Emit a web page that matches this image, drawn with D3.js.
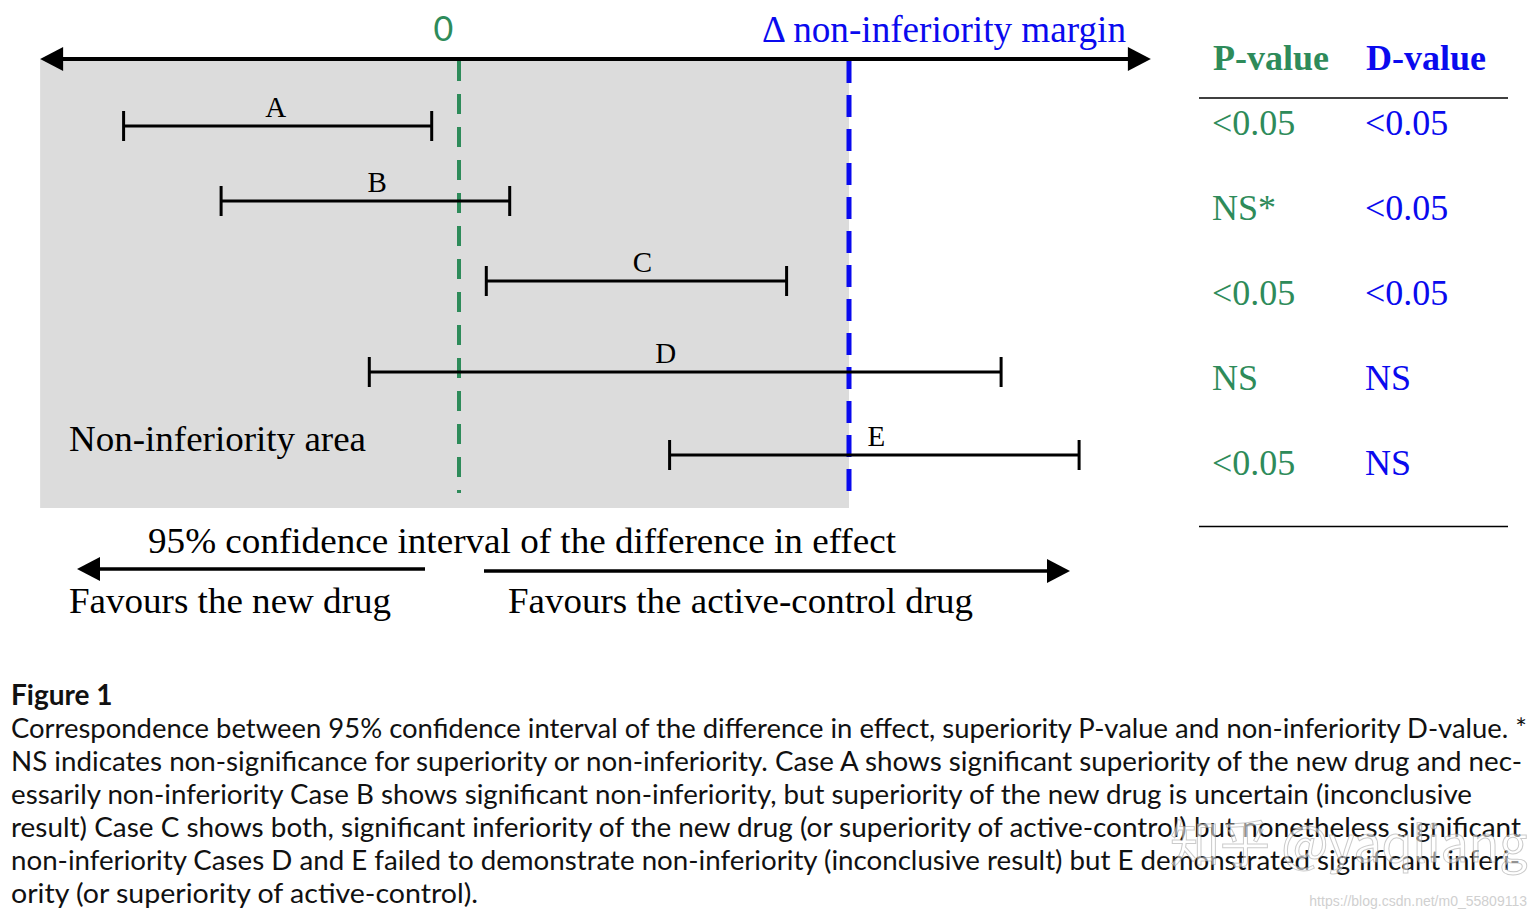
<!DOCTYPE html>
<html><head><meta charset="utf-8">
<script src="https://cdn.jsdelivr.net/npm/d3@7"></script>
<style>html,body{margin:0;padding:0;background:#fff;}svg{display:block;}</style>
</head><body>
<script>
// ---- data ----
const cases   = ["A", "B", "C", "D", "E"];
const lower   = [-0.86, -0.61, 0.07, -0.23, 0.54];   // CI lower bound (units of Δ)
const upper   = [-0.07, 0.13, 0.84, 1.39, 1.59];     // CI upper bound (units of Δ)
const pValues = ["<0.05", "NS*", "<0.05", "NS", "<0.05"];
const dValues = ["<0.05", "<0.05", "<0.05", "NS", "NS"];
const headers = ["P-value", "D-value"];
const captionTitle = "Figure 1";
const captionLines = [
  "Correspondence between 95% confidence interval of the difference in effect, superiority P-value and non-inferiority D-value. *",
  "NS indicates non-significance for superiority or non-inferiority. Case A shows significant superiority of the new drug and nec-",
  "essarily non-inferiority Case B shows significant non-inferiority, but superiority of the new drug is uncertain (inconclusive",
  "result) Case C shows both, significant inferiority of the new drug (or superiority of active-control) but nonetheless significant",
  "non-inferiority Cases D and E failed to demonstrate non-inferiority (inconclusive result) but E demonstrated significant inferi-",
  "ority (or superiority of active-control)."
];

// ---- layout ----
const W = 1537, H = 918;
const GREEN = "#2e8b5a", BLUE = "#0a0aee";
const serif = "'Liberation Serif','Times New Roman',serif";
const sans = "Lato,'Open Sans',sans-serif";

const svg = d3.select("body").append("svg").attr("width", W).attr("height", H);

const x = d3.scaleLinear().domain([0, 1]).range([459, 849]); // 0 -> zero line, 1 -> Δ margin
const axisY = 59;
const rowY = d3.scaleOrdinal().domain(cases).range([126, 201, 281, 372, 455]);
const labelAt = [-0.47, -0.21, 0.47, 0.53, 1.07];
const tableY = d3.scalePoint().domain(cases).range([135, 475]);

// non-inferiority area
svg.append("rect").attr("x", x(-1.074)).attr("y", axisY)
  .attr("width", x(1) - x(-1.074)).attr("height", 508 - axisY).attr("fill", "#dcdcdc");

function arrow(x1, x2, y, w) {
  const dir = Math.sign(x2 - x1), hl = 23, hw = 12;
  svg.append("line").attr("x1", x1).attr("x2", x2 - dir * hl).attr("y1", y).attr("y2", y)
    .attr("stroke", "#000").attr("stroke-width", w);
  svg.append("path").attr("d", `M${x2},${y}L${x2 - dir * hl},${y - hw}L${x2 - dir * hl},${y + hw}Z`).attr("fill", "#000");
}
// top double-headed axis
svg.append("line").attr("x1", x(-1.074) + 22).attr("x2", x(1.774) - 22).attr("y1", axisY).attr("y2", axisY)
  .attr("stroke", "#000").attr("stroke-width", 4);
svg.append("path").attr("d", `M${x(-1.074)},${axisY}l23,-12l0,24Z`).attr("fill", "#000");
svg.append("path").attr("d", `M${x(1.774)},${axisY}l-23,-12l0,24Z`).attr("fill", "#000");

// reference lines
svg.append("line").attr("x1", x(0)).attr("x2", x(0)).attr("y1", axisY + 2).attr("y2", 493)
  .attr("stroke", GREEN).attr("stroke-width", 4).attr("stroke-dasharray", "20,13");
svg.append("line").attr("x1", x(1)).attr("x2", x(1)).attr("y1", axisY + 2).attr("y2", 493)
  .attr("stroke", BLUE).attr("stroke-width", 5).attr("stroke-dasharray", "22,12");

svg.append("text").attr("x", x(-0.04)).attr("y", 41).attr("text-anchor", "middle")
  .attr("font-family", sans).attr("font-size", 34).attr("fill", GREEN).text("0");
svg.append("text").attr("x", 762).attr("y", 42).attr("textLength", 364).attr("lengthAdjust", "spacingAndGlyphs")
  .attr("font-family", serif).attr("font-size", 37).attr("fill", BLUE).text("\u0394 non-inferiority margin");

// confidence intervals
const g = svg.append("g");
cases.forEach((c, i) => {
  const y = rowY(c);
  g.append("line").attr("x1", x(lower[i])).attr("x2", x(upper[i])).attr("y1", y).attr("y2", y)
    .attr("stroke", "#000").attr("stroke-width", 3);
  [lower[i], upper[i]].forEach(v => {
    g.append("line").attr("x1", x(v)).attr("x2", x(v)).attr("y1", y - 15).attr("y2", y + 15)
      .attr("stroke", "#000").attr("stroke-width", 3);
  });
  g.append("text").attr("x", x(labelAt[i])).attr("y", y - 9).attr("text-anchor", "middle")
    .attr("font-family", serif).attr("font-size", 29).attr("fill", "#000").text(c);
});

svg.append("text").attr("x", 69).attr("y", 451).attr("textLength", 297).attr("lengthAdjust", "spacingAndGlyphs")
  .attr("font-family", serif).attr("font-size", 36).text("Non-inferiority area");

// bottom annotation
svg.append("text").attr("x", 148).attr("y", 553).attr("textLength", 748).attr("lengthAdjust", "spacingAndGlyphs")
  .attr("font-family", serif).attr("font-size", 36).text("95% confidence interval of the difference in effect");
arrow(425, 77, 569, 3.5);
arrow(484, 1070, 571, 3.5);
svg.append("text").attr("x", 69).attr("y", 613).attr("textLength", 322).attr("lengthAdjust", "spacingAndGlyphs")
  .attr("font-family", serif).attr("font-size", 36).text("Favours the new drug");
svg.append("text").attr("x", 508).attr("y", 613).attr("textLength", 465).attr("lengthAdjust", "spacingAndGlyphs")
  .attr("font-family", serif).attr("font-size", 36).text("Favours the active-control drug");

// table
const colX = [1212, 1365];
const colColor = [GREEN, BLUE];
headers.forEach((h, j) => {
  svg.append("text").attr("x", colX[j] + 1).attr("y", 70).attr("font-family", serif).attr("font-weight", "bold")
    .attr("font-size", 36).attr("fill", colColor[j]).text(h);
});
svg.append("line").attr("x1", 1199).attr("x2", 1508).attr("y1", 98).attr("y2", 98).attr("stroke", "#000").attr("stroke-width", 1.5);
svg.append("line").attr("x1", 1199).attr("x2", 1508).attr("y1", 526.5).attr("y2", 526.5).attr("stroke", "#000").attr("stroke-width", 1.5);
[pValues, dValues].forEach((col, j) => {
  cases.forEach((c, i) => {
    svg.append("text").attr("x", colX[j]).attr("y", tableY(c)).attr("font-family", serif)
      .attr("font-size", 36).attr("fill", colColor[j]).text(col[i]);
  });
});

// caption
svg.append("text").attr("x", 11).attr("y", 705).attr("font-family", sans).attr("font-weight", "bold")
  .attr("font-size", 28).attr("fill", "#111").text(captionTitle);
const lineEnds = [1527, 1522, 1472, 1521, 1520, 478];
captionLines.forEach((t, i) => {
  svg.append("text").attr("x", 11).attr("y", 738 + i * 33)
    .attr("textLength", lineEnds[i] - 11).attr("lengthAdjust", "spacingAndGlyphs")
    .attr("font-family", sans).attr("font-size", 26).attr("fill", "#111").text(t);
});

// watermarks
svg.append("text").attr("x", 1170).attr("y", 862).attr("font-family", "'Noto Sans CJK SC',sans-serif")
  .attr("font-size", 50).attr("fill", "rgba(255,255,255,0.55)").attr("stroke", "rgba(140,140,140,0.45)")
  .attr("stroke-width", 1).text("知乎 @yaqliang");
svg.append("text").attr("x", 1527).attr("y", 906).attr("text-anchor", "end").attr("font-family", "'Liberation Sans',sans-serif")
  .attr("font-size", 14).attr("fill", "#d0d0d0").text("https://blog.csdn.net/m0_55809113");
</script>
</body></html>
